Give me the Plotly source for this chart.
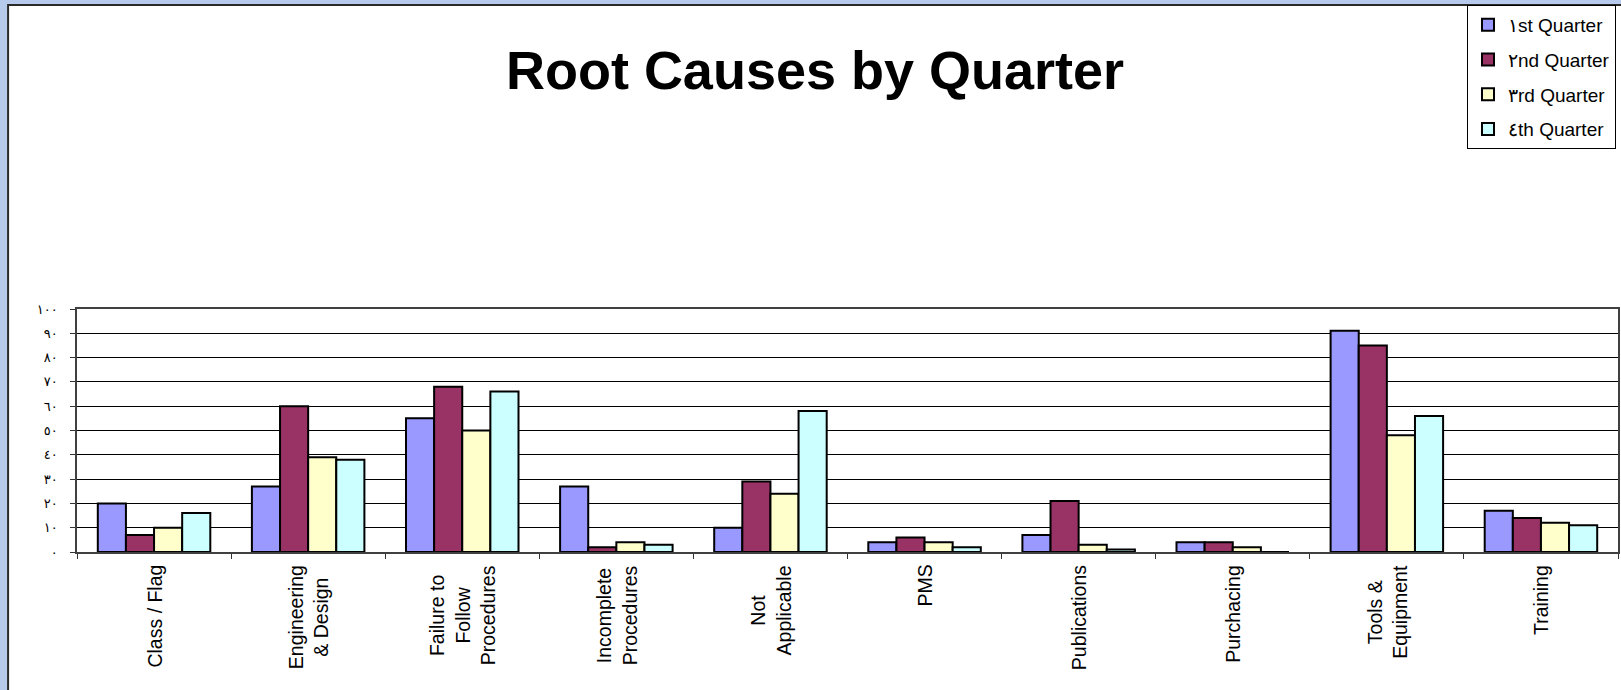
import plotly.graph_objects as go

# Root cause categories and quarterly counts
categories = [
    "Class / Flag", "Engineering & Design", "Failure to Follow Procedures",
    "Incomplete Procedures", "Not Applicable", "PMS", "Publications",
    "Purchacing", "Tools & Equipment", "Training",
]
category_labels = [
    "Class / Flag", "Engineering<br>& Design", "Failure to<br>Follow<br>Procedures",
    "Incomplete<br>Procedures", "Not<br>Applicable", "PMS", "Publications",
    "Purchacing", "Tools &<br>Equipment", "Training",
]
q1 = [20, 27, 55, 27, 10, 4, 7, 4, 91, 17]
q2 = [7, 60, 68, 2, 29, 6, 21, 4, 85, 14]
q3 = [10, 39, 50, 4, 24, 4, 3, 2, 48, 12]
q4 = [16, 38, 66, 3, 58, 2, 1, 0, 56, 11]

series_names = ["١st Quarter", "٢nd Quarter", "٣rd Quarter", "٤th Quarter"]
series_colors = ["#9999FF", "#993366", "#FFFFCC", "#CCFFFF"]

y_tickvals = [0, 10, 20, 30, 40, 50, 60, 70, 80, 90, 100]
y_ticktext = ["٠", "١٠", "٢٠", "٣٠", "٤٠", "٥٠", "٦٠", "٧٠", "٨٠", "٩٠", "١٠٠"]

W, H = 1621, 690
L, R, T, B = 77, 1, 309, 138
PW, PH = W - L - R, H - T - B


def px_x(px):
    return (px - L) / PW


def px_y(py):
    return (H - B - py) / PH


fig = go.Figure()
for i, (name, vals, col) in enumerate(zip(series_names, [q1, q2, q3, q4], series_colors)):
    fig.add_trace(go.Bar(
        x=categories, y=vals, name=name, legendgroup=f"g{i}",
        marker=dict(color=col, line=dict(color="black", width=2)),
    ))

# Vertical category labels under the axis
for cat, lab in zip(categories, category_labels):
    fig.add_annotation(
        x=cat, y=0, xref="x", yref="y", text=lab, showarrow=False,
        textangle=-90, yanchor="top", xanchor="center", yshift=-11,
        align="center", font=dict(family="Liberation Sans, Arial", size=19.5, color="black"),
    )

# White chart area with dark frame on the blue window background
fig.add_shape(
    type="rect", xref="paper", yref="paper", layer="below",
    x0=px_x(8), x1=px_x(W + 10), y0=px_y(5), y1=px_y(H + 10),
    fillcolor="white", line=dict(color="#2a2a2a", width=2),
)

fig.update_layout(
    width=W, height=H, autosize=False,
    margin=dict(l=L, r=R, t=T, b=B, pad=0),
    paper_bgcolor="#B6CBEB",
    plot_bgcolor="#C0C0C0",
    barmode="group", bargap=0.27, bargroupgap=0,
    title=dict(
        text="<b>Root Causes by Quarter</b>",
        font=dict(family="Liberation Sans, Arial", size=54, color="black"),
        x=815 / W, xanchor="center", xref="container",
        y=1 - 51 / H, yanchor="top", yref="container",
    ),
    legend=dict(
        x=px_x(1618), xanchor="right", y=px_y(5), yanchor="top",
        bgcolor="white", bordercolor="black", borderwidth=1,
        font=dict(family="Liberation Sans, Arial", size=19, color="black"),
        tracegroupgap=7, traceorder="grouped",
    ),
    xaxis=dict(
        type="category", showticklabels=False,
        ticks="outside", tickson="boundaries", ticklen=5, tickcolor="#333333",
        showline=True, linecolor="#404040", linewidth=1.5, mirror=True,
        showgrid=False, zeroline=False,
    ),
    yaxis=dict(
        range=[0, 100], tickvals=y_tickvals, ticktext=y_ticktext,
        ticks="outside", ticklen=5, tickcolor="#333333", ticklabelstandoff=10,
        tickfont=dict(family="Liberation Sans, DejaVu Sans", size=13, color="black"),
        showline=True, linecolor="#404040", linewidth=1.5, mirror=True,
        showgrid=True, gridcolor="black", gridwidth=1, zeroline=False,
    ),
    showlegend=True,
)

fig.write_html("out.html")
